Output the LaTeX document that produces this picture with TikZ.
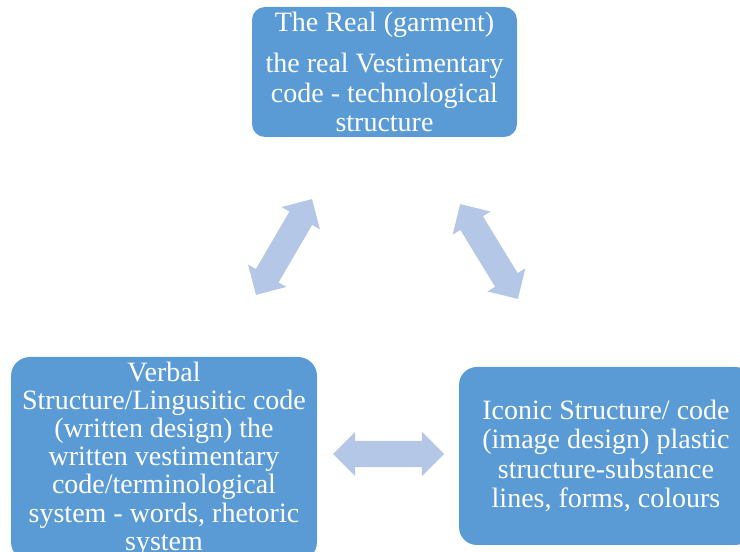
\documentclass[tikz,border=0pt]{standalone}
\usepackage{fontspec}
\setmainfont{Liberation Serif}
\usetikzlibrary{positioning}
\usetikzlibrary{shapes}
\usetikzlibrary{shapes.arrows}
\usetikzlibrary{calc}

\definecolor{boxblue}{RGB}{91,155,213}
\definecolor{arrowblue}{RGB}{180,199,231}

\begin{document}
\begin{tikzpicture}[x=1pt,y=1pt,
	codebox/.style={fill=boxblue, text=white, align=center, inner sep=0pt},
	linkarrow/.style={double arrow, fill=arrowblue, inner xsep=0pt, inner ysep=13pt,
		double arrow head extend=9pt, minimum height=111pt}]
%     \draw[help lines](0,0) grid (740,552);

	\clip (0,0) rectangle (740,552);

	%%%% The real garment %%%%

	\node[codebox, minimum width=265pt, minimum height=130pt, rounded corners=13pt,
		font=\fontsize{28}{29.5}\selectfont] (A1) at (384.5,480)
	{The Real (garment)\\[12pt]
		the real Vestimentary\\
		code - technological\\
		structure};

	%%% Verbal structure %%%

	\node[codebox, minimum width=306pt, minimum height=204pt, rounded corners=19pt,
		font=\fontsize{28}{28.2}\selectfont] (A2) at (164,93)
	{Verbal\\
		Structure/Lingusitic code\\
		(written design) the\\
		written vestimentary\\
		code/terminological\\
		system - words, rhetoric\\
		system};

	%%% Iconic structure %%%

	\node[codebox, minimum width=294pt, minimum height=178pt, rounded corners=18pt,
		font=\fontsize{28}{29.5}\selectfont] (A3) at (606,96)
	{Iconic Structure/ code\\
		(image design) plastic\\
		structure-substance\\
		lines, forms, colours};

	%%% links between the codes %%%

	\node[linkarrow, rotate=59.7] (D1) at (284,305) {};
	\node[linkarrow, rotate=121.4] (D2) at (489,300.5) {};
	\node[linkarrow] (D3) at (388.5,98) {};

\end{tikzpicture}
\end{document}
